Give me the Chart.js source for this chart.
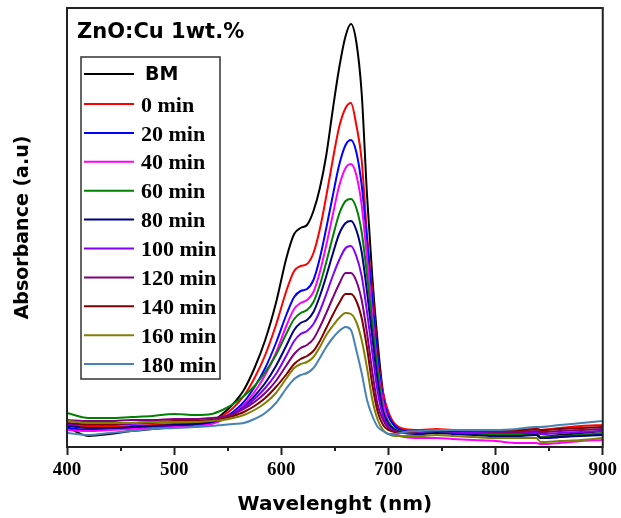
<!DOCTYPE html>
<html><head><meta charset="utf-8">
<script src="https://cdn.jsdelivr.net/npm/chart.js@4.4.1/dist/chart.umd.min.js"></script>
<style>html,body{margin:0;padding:0;background:#fff;}#wrap{width:621px;height:518px;}</style>
</head><body><div id="wrap"><canvas id="c" width="621" height="518"></canvas></div>
<script>
const wavelength = [400,420,440,460,480,500,520,535,545,555,565,575,585,595,605,612,618,624,630,636,642,648,654,660,665,670,675,680,685,690,695,700,706,715,730,745,760,780,800,820,838,842,860,880,900];
const xTickValues = [400,500,600,700,800,900];
const xMinorTicks = [450,550,650,750,850];
const seriesNames = ['BM','0 min','20 min','40 min','60 min','80 min','100 min','120 min','140 min','160 min','180 min'];

const absBM  = [0.20,0.11,0.13,0.16,0.18,0.20,0.22,0.25,0.33,0.43,0.57,0.79,1.07,1.44,1.90,2.13,2.19,2.22,2.36,2.59,2.92,3.37,3.79,4.11,4.23,4.05,3.54,2.52,1.69,1.04,0.54,0.31,0.21,0.16,0.15,0.16,0.15,0.14,0.13,0.13,0.14,0.10,0.12,0.14,0.16];
const abs0   = [0.22,0.20,0.20,0.21,0.22,0.23,0.24,0.26,0.31,0.39,0.51,0.69,0.92,1.22,1.57,1.76,1.81,1.83,1.94,2.18,2.51,2.87,3.20,3.39,3.44,3.22,2.87,2.12,1.55,0.92,0.54,0.35,0.23,0.18,0.17,0.18,0.17,0.17,0.16,0.16,0.18,0.17,0.19,0.21,0.22];
const abs20  = [0.19,0.17,0.18,0.19,0.20,0.21,0.22,0.24,0.29,0.35,0.45,0.60,0.79,1.04,1.33,1.50,1.56,1.58,1.67,1.89,2.19,2.51,2.82,3.02,3.07,2.95,2.62,2.07,1.47,0.89,0.49,0.31,0.21,0.16,0.15,0.16,0.15,0.14,0.13,0.12,0.13,0.09,0.10,0.12,0.13];
const abs40  = [0.17,0.16,0.17,0.18,0.19,0.20,0.21,0.23,0.27,0.33,0.42,0.55,0.72,0.94,1.22,1.38,1.44,1.47,1.55,1.75,2.02,2.32,2.61,2.79,2.83,2.72,2.42,1.89,1.32,0.79,0.45,0.25,0.14,0.10,0.09,0.09,0.08,0.07,0.06,0.04,0.04,0.03,0.04,0.06,0.07];
const abs60  = [0.34,0.29,0.29,0.30,0.31,0.33,0.32,0.33,0.37,0.43,0.51,0.61,0.75,0.92,1.14,1.28,1.34,1.37,1.45,1.62,1.85,2.10,2.33,2.46,2.48,2.39,2.15,1.72,1.22,0.75,0.37,0.25,0.18,0.15,0.14,0.15,0.14,0.13,0.12,0.12,0.13,0.10,0.11,0.12,0.14];
const abs80  = [0.21,0.19,0.19,0.20,0.21,0.22,0.23,0.25,0.28,0.33,0.40,0.51,0.64,0.81,1.02,1.17,1.24,1.27,1.35,1.51,1.71,1.93,2.13,2.24,2.26,2.17,1.95,1.55,1.09,0.65,0.35,0.23,0.17,0.14,0.13,0.14,0.13,0.12,0.11,0.11,0.12,0.09,0.10,0.11,0.12];
const abs100 = [0.23,0.22,0.22,0.23,0.24,0.25,0.26,0.27,0.29,0.33,0.39,0.48,0.59,0.73,0.92,1.06,1.13,1.16,1.23,1.36,1.53,1.71,1.87,1.99,2.01,1.91,1.71,1.35,0.94,0.55,0.31,0.21,0.16,0.14,0.15,0.16,0.15,0.14,0.14,0.14,0.15,0.13,0.14,0.15,0.16];
const abs120 = [0.27,0.26,0.26,0.27,0.27,0.28,0.28,0.29,0.30,0.33,0.38,0.45,0.54,0.66,0.82,0.93,0.99,1.02,1.08,1.20,1.34,1.49,1.63,1.74,1.74,1.66,1.47,1.14,0.75,0.42,0.27,0.19,0.16,0.15,0.16,0.17,0.16,0.16,0.15,0.15,0.16,0.15,0.16,0.17,0.18];
const abs140 = [0.24,0.23,0.23,0.24,0.25,0.26,0.26,0.27,0.28,0.31,0.35,0.41,0.49,0.60,0.73,0.83,0.88,0.91,0.96,1.06,1.19,1.32,1.44,1.53,1.53,1.46,1.29,0.99,0.62,0.35,0.22,0.17,0.15,0.15,0.16,0.17,0.16,0.17,0.17,0.17,0.18,0.17,0.18,0.19,0.20];
const abs160 = [0.26,0.24,0.24,0.24,0.25,0.25,0.25,0.26,0.27,0.29,0.32,0.37,0.44,0.54,0.69,0.79,0.83,0.85,0.90,1.00,1.12,1.21,1.29,1.34,1.33,1.25,1.07,0.79,0.47,0.27,0.17,0.13,0.11,0.11,0.11,0.12,0.11,0.10,0.09,0.09,0.09,0.05,0.06,0.07,0.09];
const abs180 = [0.14,0.12,0.14,0.16,0.18,0.19,0.20,0.21,0.22,0.23,0.24,0.28,0.34,0.44,0.59,0.68,0.72,0.74,0.79,0.89,1.00,1.09,1.16,1.20,1.17,0.97,0.74,0.47,0.31,0.20,0.16,0.13,0.13,0.15,0.16,0.17,0.17,0.17,0.17,0.18,0.20,0.20,0.22,0.24,0.26];

const seriesValues = [absBM,abs0,abs20,abs40,abs60,abs80,abs100,abs120,abs140,abs160,abs180];
const lineColors = ['#000000','#ff0000','#0000ff','#ff00ff','#008000','#000080','#8000ff','#800080','#800000','#808000','#4682b4'];

const datasets = seriesValues.map((vals, i) => ({
  label: seriesNames[i],
  data: wavelength.map((w, j) => ({x: w, y: vals[j]})),
  borderColor: lineColors[i],
  backgroundColor: lineColors[i],
  borderWidth: 2,
  pointRadius: 0,
  cubicInterpolationMode: 'monotone',
  fill: false,
  order: seriesValues.length - i
}));

const decor = {
  id: 'decor',
  afterDraw(chart) {
    const ctx = chart.ctx, a = chart.chartArea, xs = chart.scales.x;
    ctx.save();
    ctx.strokeStyle = '#222';
    ctx.lineWidth = 2;
    ctx.strokeRect(a.left, a.top, a.right - a.left, a.bottom - a.top);
    ctx.beginPath();
    xMinorTicks.forEach(v => {
      const px = Math.round(xs.getPixelForValue(v));
      ctx.moveTo(px, a.bottom); ctx.lineTo(px, a.bottom + 4);
    });
    ctx.stroke();
    ctx.fillStyle = '#000';
    ctx.font = 'bold 21px "DejaVu Sans"';
    ctx.textBaseline = 'middle';
    ctx.textAlign = 'left';
    ctx.fillText('ZnO:Cu 1wt.%', 77, 33);
    ctx.lineWidth = 1.5;
    ctx.strokeStyle = '#333';
    ctx.strokeRect(81, 57, 139, 322);
    chart.data.datasets.forEach((ds, i) => {
      const y = i === 0 ? 74 : 104 + (i - 1) * 28.9;
      ctx.strokeStyle = ds.borderColor;
      ctx.lineWidth = 2;
      ctx.beginPath(); ctx.moveTo(84, y); ctx.lineTo(134, y); ctx.stroke();
      ctx.fillStyle = '#000';
      if (i === 0) { ctx.font = 'bold 19px "DejaVu Sans"'; ctx.fillText(ds.label, 145, y + 1); }
      else { ctx.font = 'bold 22px "Liberation Serif"'; ctx.fillText(ds.label, 141, y + 2); }
    });
    ctx.restore();
  }
};

new Chart(document.getElementById('c'), {
  type: 'line',
  data: { datasets },
  options: {
    responsive: false,
    animation: false,
    layout: { padding: { top: 8, right: 17, left: 0, bottom: 0 } },
    plugins: { legend: { display: false }, tooltip: { enabled: false } },
    scales: {
      x: {
        type: 'linear', min: 400, max: 900,
        afterFit(s) { s.height = 71; },
        afterBuildTicks(s) { s.ticks = xTickValues.map(v => ({value: v})); },
        ticks: { color: '#000', padding: 4, font: { family: 'Liberation Serif', weight: 'bold', size: 19 }, maxRotation: 0 },
        grid: { drawOnChartArea: false, drawTicks: true, tickLength: 8, tickWidth: 2, tickColor: '#222' },
        border: { display: true, width: 2, color: '#222' },
        title: { display: true, text: 'Wavelenght (nm)', color: '#000', padding: { top: 0, bottom: 1 }, font: { family: 'DejaVu Sans', weight: 'bold', size: 20 } }
      },
      y: {
        min: 0, max: 4.39,
        afterFit(s) { s.width = 67; },
        ticks: { display: false },
        grid: { drawOnChartArea: false, drawTicks: false },
        border: { display: true, width: 2, color: '#222' },
        title: { display: true, text: 'Absorbance (a.u)', color: '#000', padding: { top: 12, bottom: 0 }, font: { family: 'DejaVu Sans', weight: 'bold', size: 19 } }
      }
    }
  },
  plugins: [decor]
});
</script>
</body></html>
